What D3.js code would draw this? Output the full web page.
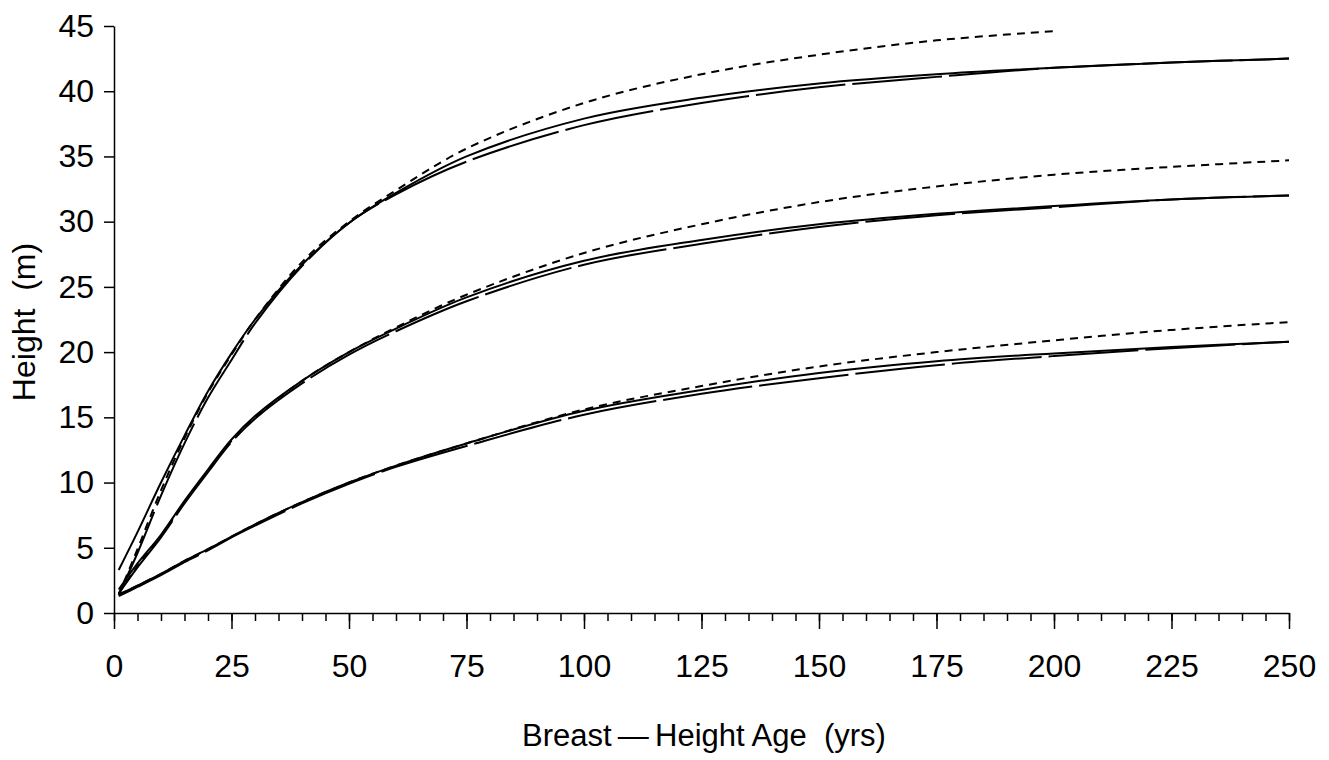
<!DOCTYPE html>
<html lang="en">
<head>
  <meta charset="UTF-8">
  <title>Height growth curves</title>
  <style>
    body { margin: 0; background: #fff; }
    text { font-family: "Liberation Sans", Arial, sans-serif; fill: #000; }
  </style>
</head>
<body>
  <script src="https://cdn.jsdelivr.net/npm/d3@7/dist/d3.min.js"></script>
  <script>
    var width = 1329;
    var height = 760;

    // breast-height age (years) at which the curves were read
    var ages = [1, 5, 10, 15, 20, 25, 30, 40, 50, 60, 75, 100, 125, 150, 175, 200, 225, 250];
    var agesShort = [1, 5, 10, 15, 20, 25, 30, 40, 50, 60, 75, 100, 125, 150, 175, 200];

    // top site class
    var highSolid = [3.3, 6.2, 10.0, 13.6, 17.0, 19.9, 22.5, 26.7, 29.9, 32.2, 35.0, 37.9, 39.5, 40.6, 41.3, 41.8, 42.2, 42.5];
    var highLong  = [1.4, 4.6, 9.0, 13.0, 16.5, 19.4, 22.2, 26.6, 29.9, 32.1, 34.6, 37.4, 39.1, 40.3, 41.1, 41.8, 42.2, 42.5];
    var highShort = [1.4, 4.9, 9.4, 13.4, 16.9, 19.8, 22.5, 26.9, 30.0, 32.4, 35.6, 39.1, 41.3, 42.8, 43.9, 44.6];

    // middle site class
    var midSolid = [1.8, 3.8, 6.0, 8.6, 11.0, 13.3, 15.1, 17.8, 20.0, 21.8, 24.2, 27.0, 28.6, 29.8, 30.6, 31.2, 31.7, 32.0];
    var midLong  = [1.5, 3.5, 5.8, 8.4, 10.8, 13.1, 14.9, 17.6, 19.8, 21.6, 23.9, 26.7, 28.3, 29.6, 30.5, 31.1, 31.7, 32.0];
    var midShort = [1.5, 3.6, 5.9, 8.5, 10.9, 13.2, 15.0, 17.8, 20.0, 21.9, 24.4, 27.6, 29.8, 31.5, 32.7, 33.6, 34.2, 34.7];

    // lower site class
    var lowSolid = [1.4, 2.1, 3.0, 4.0, 4.9, 5.85, 6.8, 8.5, 10.0, 11.3, 13.0, 15.5, 17.1, 18.4, 19.3, 19.9, 20.4, 20.8];
    var lowLong  = [1.3, 2.0, 2.9, 3.9, 4.8, 5.8, 6.7, 8.4, 9.9, 11.2, 12.8, 15.2, 16.8, 18.0, 19.0, 19.7, 20.3, 20.8];
    var lowShort = [1.4, 2.1, 3.0, 4.0, 4.9, 5.85, 6.8, 8.5, 10.0, 11.3, 13.0, 15.6, 17.4, 18.9, 20.0, 20.9, 21.7, 22.3];

    var xMajor = [0, 25, 50, 75, 100, 125, 150, 175, 200, 225, 250];
    var yMajor = [0, 5, 10, 15, 20, 25, 30, 35, 40, 45];

    var svg = d3.select("body").append("svg")
      .attr("width", width)
      .attr("height", height);

    var x = d3.scaleLinear().domain([0, 250]).range([114, 1289]);
    var y = d3.scaleLinear().domain([0, 45]).range([613, 26]);

    // curves: solid, long dash, short dash for each site class
    var series = [
      { a: ages, v: highSolid, dash: null },
      { a: ages, v: highLong, dash: "90,7" },
      { a: agesShort, v: highShort, dash: "8,6" },
      { a: ages, v: midSolid, dash: null },
      { a: ages, v: midLong, dash: "90,7" },
      { a: ages, v: midShort, dash: "8,6" },
      { a: ages, v: lowSolid, dash: null },
      { a: ages, v: lowLong, dash: "90,7" },
      { a: ages, v: lowShort, dash: "8,6" }
    ];

    var line = d3.line()
      .x(function (d) { return x(d[0]); })
      .y(function (d) { return y(d[1]); })
      .curve(d3.curveCatmullRom.alpha(0.5));

    svg.selectAll("path.curve")
      .data(series)
      .enter()
      .append("path")
      .attr("class", "curve")
      .attr("fill", "none")
      .attr("stroke", "#000")
      .attr("stroke-width", 2)
      .attr("stroke-dasharray", function (d) { return d.dash; })
      .attr("d", function (d) {
        return line(d.a.map(function (t, i) { return [t, d.v[i]]; }));
      });

    // x axis: minor ticks every 5 yrs, major every 25
    svg.append("g")
      .attr("transform", "translate(0," + y(0) + ")")
      .call(d3.axisBottom(x).tickValues(d3.range(0, 251, 5)).tickSize(8).tickSizeOuter(0).tickFormat(""))
      .call(function (g) { g.selectAll("line, path").attr("stroke", "#000").attr("stroke-width", 1.5); });

    svg.append("g")
      .attr("transform", "translate(0," + y(0) + ")")
      .call(d3.axisBottom(x).tickValues(xMajor).tickSize(16).tickSizeOuter(0).tickPadding(25))
      .call(function (g) {
        g.select(".domain").remove();
        g.selectAll("line").attr("stroke", "#000").attr("stroke-width", 1.5);
        g.selectAll("text").attr("font-size", 32).attr("font-family", "Liberation Sans, Arial, sans-serif");
      });

    // y axis
    svg.append("g")
      .attr("transform", "translate(" + x(0) + ",0)")
      .call(d3.axisLeft(y).tickValues(yMajor).tickSize(10).tickSizeOuter(0).tickPadding(10))
      .call(function (g) {
        g.selectAll("line, path").attr("stroke", "#000").attr("stroke-width", 1.5);
        g.selectAll("text").attr("font-size", 32).attr("font-family", "Liberation Sans, Arial, sans-serif");
      });

    // axis titles
    svg.append("text")
      .attr("x", 704)
      .attr("y", 746)
      .attr("text-anchor", "middle")
      .attr("font-size", 31)
      .style("white-space", "pre")
      .text("Breast\u2009\u2014\u2009Height Age  (yrs)");

    svg.append("text")
      .attr("transform", "translate(35,322) rotate(-90)")
      .attr("text-anchor", "middle")
      .attr("font-size", 32)
      .style("white-space", "pre")
      .text("Height  (m)");
  </script>
</body>
</html>
